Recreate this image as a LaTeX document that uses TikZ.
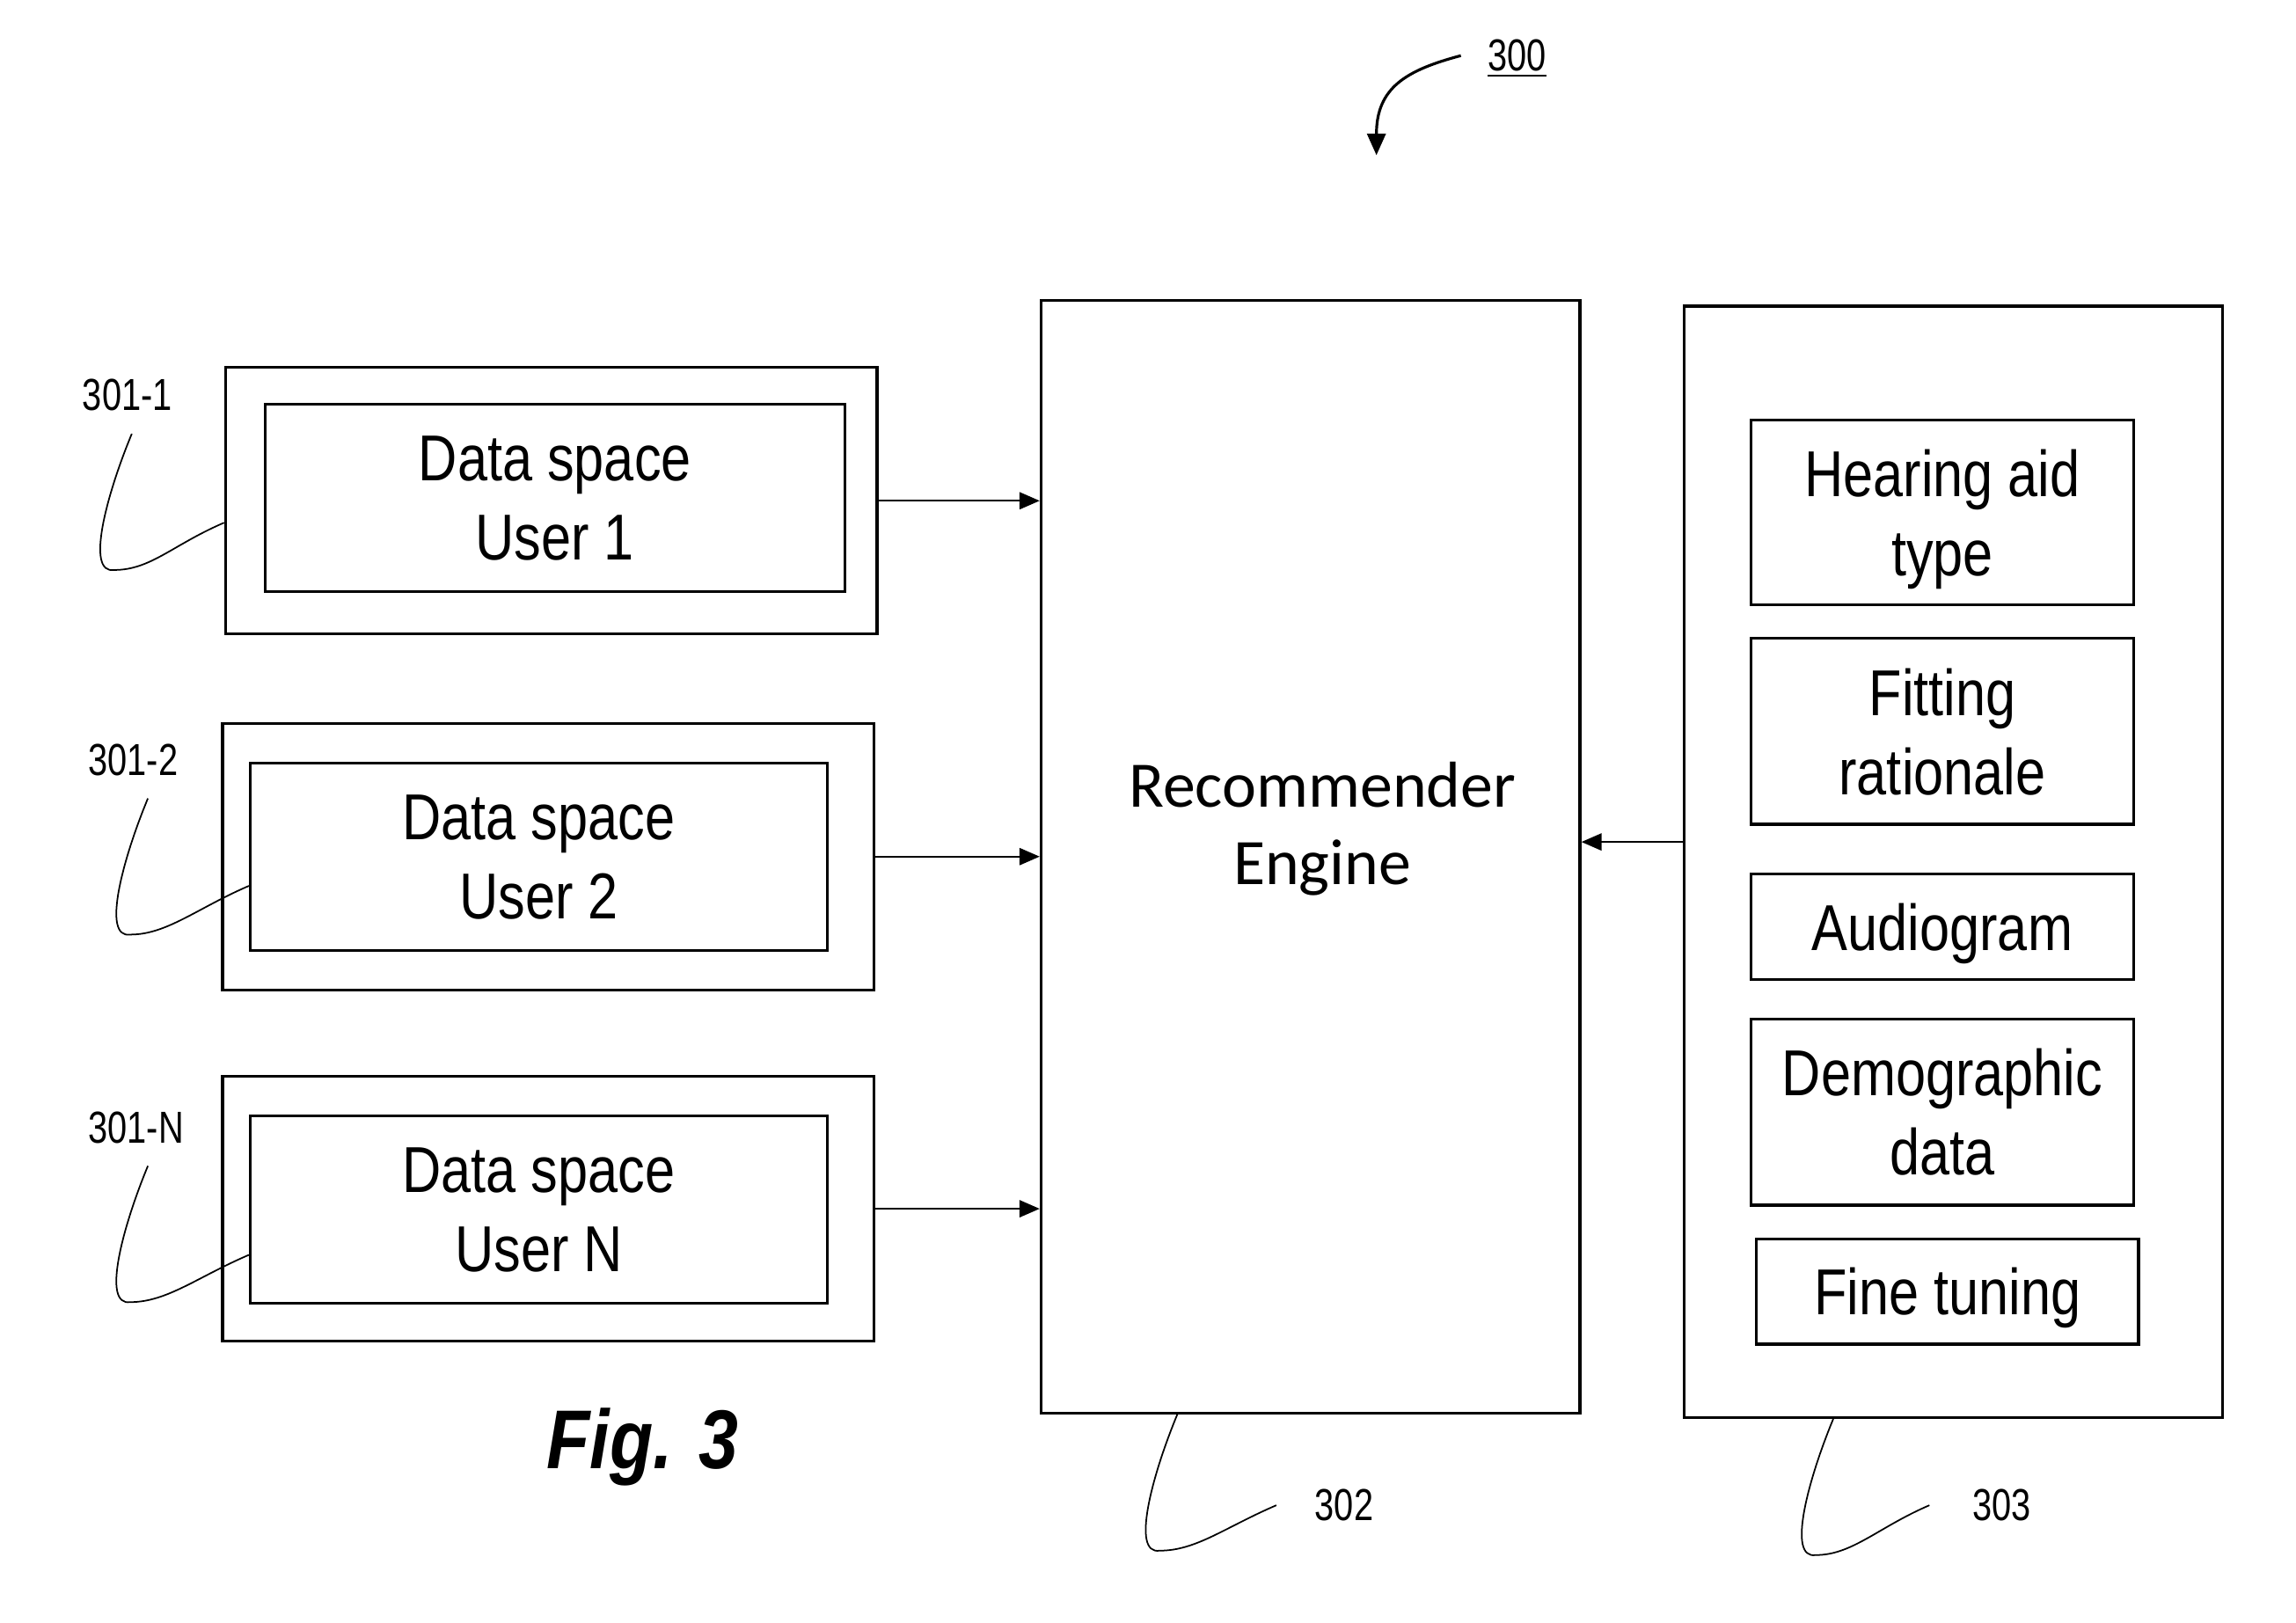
\documentclass[tikz,border=0pt]{standalone}
\usepackage{fontspec}
\setmainfont{Liberation Sans}
\newfontfamily\boxfont{Liberation Sans}[FakeStretch=0.83]
\newfontfamily\numfont{Liberation Sans}[FakeStretch=0.78]
\newfontfamily\engfont{Carlito}
\newfontfamily\figfont{Liberation Sans}[FakeStretch=0.85]
\usetikzlibrary{arrows.meta,calc}
\newcommand{\upx}{0.016645cm}

\tikzset{
  sz/.style 2 args={minimum width=#1*\upx, minimum height=#2*\upx},
  box/.style={draw, line width=0.95pt, inner sep=0pt, align=center, text depth=0pt,
    font={\boxfont\fontsize{21}{25.6}\selectfont}},
  refnum/.style={inner sep=0pt, font={\numfont\fontsize{14.5}{17}\selectfont}},
  link/.style={line width=0.6pt, -{Triangle[length=6.5pt,width=5.5pt]}},
  lead/.style={line width=0.5pt},
}

\begin{document}
\begin{tikzpicture}[x=\upx, y=-\upx]
  \useasboundingbox (0,0) rectangle (1568,1108);
  % Per-user data spaces
  \node[box, sz={445}{182}] (u1out) at (376.5,342) {};
  \node[box, sz={396}{128}] (u1in) at (379,340) {Data space\\User 1};
  \node[box, sz={445}{182}] (u2out) at (374.5,585) {};
  \node[box, sz={394}{128}] (u2in) at (368,585) {Data space\\User 2};
  \node[box, sz={445}{181}] (unout) at (374.5,825.5) {};
  \node[box, sz={394}{128}] (unin) at (368,826) {Data space\\User N};
  % Engine
  \node[box, sz={368}{760}] (eng) at (895,585) {};
  \node[font={\engfont\fontsize{21}{25.1}\selectfont}, align=center] (englbl) at (903,566) {Recommender\\Engine};
  % Feature block
  \node[box, sz={368}{759}] (feat) at (1334,588.5) {};
  \foreach \n/\x/\y/\h/\t in {hat/1326.5/350/126/{Hearing aid\\type},
      fit/1326.5/499.5/127/{Fitting\\rationale},
      aud/1326.5/633/72/{Audiogram},
      demo/1326.5/759.5/127/{Demographic\\data},
      fine/1330/882/72/{Fine tuning}} {
    \node[box, sz={261}{\h}] (\n) at (\x,\y) {\t};
  }
  % Inputs to engine
  \draw[link] (u1out.east) -- (u1out.east -| eng.west);
  \draw[link] (u2out.east) -- (u2out.east -| eng.west);
  \draw[link] (unout.east) -- (unout.east -| eng.west);
  \coordinate (fin) at ($(feat.west)+(0,-13.5)$);
  \draw[link] (fin) -- (fin -| eng.east);
  % Reference numerals
  \node[refnum] (l1) at (87,270) {301-1};
  \node[refnum] (l2) at (91,519) {301-2};
  \node[refnum] (ln) at (93,770) {301-N};
  \node[refnum] (l302) at (918,1028) {302};
  \node[refnum] (l303) at (1367,1028) {303};
  \node[refnum] (l300) at (1036,40) {\underline{300}};
  \draw[lead] ($(l1.south)+(3,15)$) .. controls +(-17,41) and +(-20,3) .. +(-12,93)
    .. controls +(25,0) and +(-35,15) .. ($(u1out.west)+(0,15)$);
  \draw[lead] ($(l2.south)+(10,15)$) .. controls +(-17,41) and +(-20,3) .. +(-12,93)
    .. controls +(25,0) and +(-35,15) .. ($(u2in.west)+(0,20)$);
  \draw[lead] ($(ln.south)+(8,15)$) .. controls +(-17,41) and +(-20,3) .. +(-12,93)
    .. controls +(25,0) and +(-35,15) .. ($(unin.west)+(0,31)$);
  \draw[lead] ($(eng.south)+(-91,0)$) .. controls +(-17,41) and +(-20,3) .. +(-12,93)
    .. controls +(25,0) and +(-35,15) .. ($(l302.west)+(-26,0)$);
  \draw[lead] ($(feat.south)+(-82,0)$) .. controls +(-17,41) and +(-20,3) .. +(-12,93)
    .. controls +(25,0) and +(-35,15) .. ($(l303.west)+(-29,0)$);
  \coordinate (a300) at (940,106);
  \draw[line width=0.9pt, -{Triangle[length=7pt,width=6pt]}] ($(l300.west)+(-18,-2)$) .. controls (960,48) and (940,60) .. (a300);
  % Caption
  \node[font={\figfont\bfseries\itshape\fontsize{27}{30}\selectfont}] (fig) at (439,988) {Fig. 3};
\end{tikzpicture}
\end{document}
